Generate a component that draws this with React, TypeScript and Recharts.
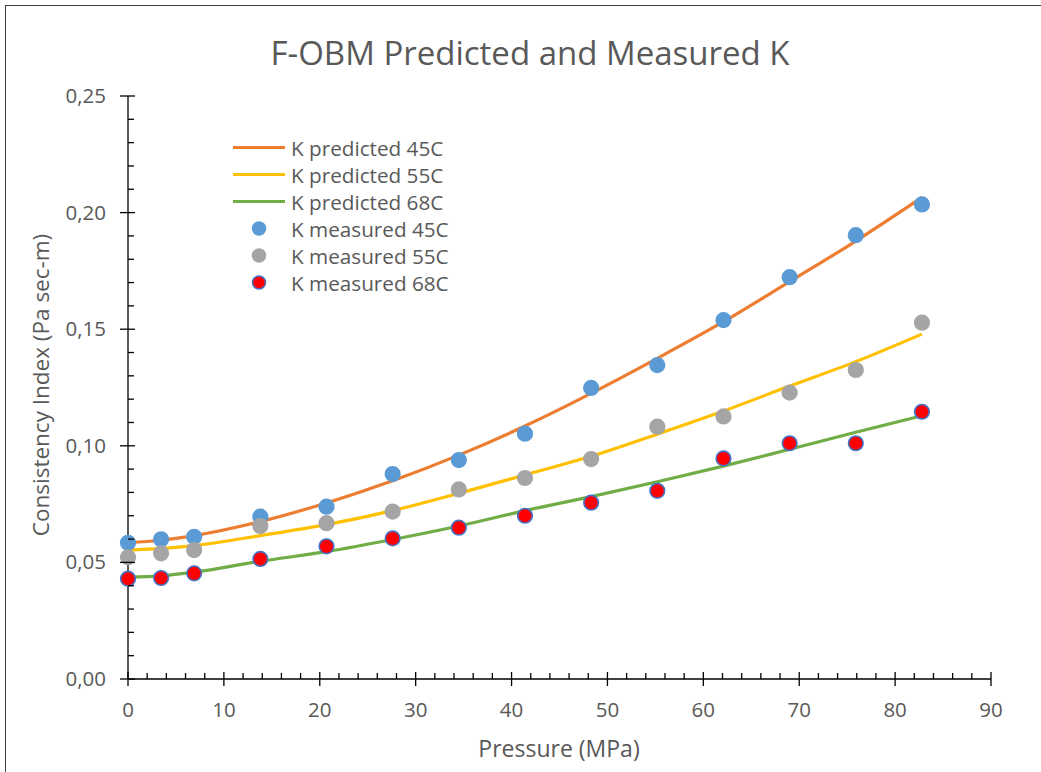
import { ComposedChart, Line, Scatter, XAxis, YAxis, Legend } from "recharts";

const FONT = "'Open Sans', sans-serif";
const TEXT = "#595959";

// pressure (MPa) at which K was measured
const PRESSURE = [0, 3.45, 6.9, 13.8, 20.7, 27.6, 34.5, 41.4, 48.3, 55.2, 62.1, 69, 75.9, 82.8];

// consistency index K (Pa sec-m)
const K_MEAS_45 = [0.0584, 0.0599, 0.061, 0.0696, 0.0739, 0.0879, 0.0939, 0.1052, 0.1248, 0.1346, 0.1539, 0.1723, 0.1903, 0.2035];
const K_MEAS_55 = [0.0522, 0.0539, 0.0553, 0.0656, 0.0668, 0.0718, 0.0813, 0.0862, 0.0943, 0.1082, 0.1126, 0.1228, 0.1325, 0.1528];
const K_MEAS_68 = [0.043, 0.0433, 0.0453, 0.0515, 0.0569, 0.0603, 0.0649, 0.07, 0.0756, 0.0807, 0.0946, 0.1011, 0.1011, 0.1146];
const K_PRED_45 = [0.0585, 0.0595, 0.0615, 0.0675, 0.0755, 0.085, 0.096, 0.1085, 0.1225, 0.1375, 0.1532, 0.1704, 0.1878, 0.2065];
const K_PRED_55 = [0.0553, 0.056, 0.0572, 0.0615, 0.0662, 0.0722, 0.0796, 0.0875, 0.0955, 0.105, 0.1149, 0.1256, 0.1361, 0.1479];
const K_PRED_68 = [0.0436, 0.0442, 0.0458, 0.0505, 0.0546, 0.0598, 0.0656, 0.0722, 0.0782, 0.0846, 0.0913, 0.0985, 0.1058, 0.1129];

// major + minor ticks
const X_TICKS = [0, 2, 4, 6, 8, 10, 12, 14, 16, 18, 20, 22, 24, 26, 28, 30, 32, 34, 36, 38, 40, 42, 44, 46, 48, 50, 52, 54, 56, 58, 60, 62, 64, 66, 68, 70, 72, 74, 76, 78, 80, 82, 84, 86, 88, 90];
const Y_TICKS = [0, 0.01, 0.02, 0.03, 0.04, 0.05, 0.06, 0.07, 0.08, 0.09, 0.1, 0.11, 0.12, 0.13, 0.14, 0.15, 0.16, 0.17, 0.18, 0.19, 0.2, 0.21, 0.22, 0.23, 0.24, 0.25];

const SERIES = [
  { name: "K predicted 45C", kind: "line", color: "#ED7D31", values: K_PRED_45 },
  { name: "K predicted 55C", kind: "line", color: "#FFC000", values: K_PRED_55 },
  { name: "K predicted 68C", kind: "line", color: "#70AD47", values: K_PRED_68 },
  { name: "K measured 45C", kind: "dot", color: "#5B9BD5", ring: "#5B9BD5", values: K_MEAS_45 },
  { name: "K measured 55C", kind: "dot", color: "#A5A5A5", ring: "#A5A5A5", values: K_MEAS_55 },
  { name: "K measured 68C", kind: "dot", color: "#FF0000", ring: "#4472C4", values: K_MEAS_68 },
];

const toPoints = (values: number[]) => PRESSURE.map((p, i) => ({ p, k: values[i] }));

function XTick({ x, y, payload }: any) {
  const major = payload.value % 10 === 0;
  return (
    <g>
      <line x1={x} x2={x} y1={major ? y - 7 : y - 6} y2={major ? y + 7 : y} stroke="#000" strokeWidth={1.3} />
      {major && (
        <text x={x} y={y + 38} textAnchor="middle" fill={TEXT} fontSize={20.5} fontFamily={FONT}>
          {payload.value}
        </text>
      )}
    </g>
  );
}

function YTick({ x, y, payload }: any) {
  const major = Math.round(payload.value * 100) % 5 === 0;
  return (
    <g>
      <line x1={major ? x - 8 : x} x2={major ? x + 7 : x + 6} y1={y} y2={y} stroke="#000" strokeWidth={1.3} />
      {major && (
        <text x={x - 22} y={y + 7} textAnchor="end" fill={TEXT} fontSize={20.5} fontFamily={FONT}>
          {payload.value.toFixed(2).replace(".", ",")}
        </text>
      )}
    </g>
  );
}

const dotShape = (fill: string, ring: string) => (props: any) =>
  <circle cx={props.cx} cy={props.cy} r={7.3} fill={fill} stroke={ring} strokeWidth={1.6} />;

function LegendBox() {
  return (
    <div style={{ fontFamily: FONT, fontSize: 20.7, color: TEXT }}>
      {SERIES.map((s) => (
        <div key={s.name} style={{ display: "flex", alignItems: "center", height: 27 }}>
          <svg width={59} height={27}>
            {s.kind === "line" ? (
              <line x1={1} x2={53} y1={13.5} y2={13.5} stroke={s.color} strokeWidth={3} />
            ) : (
              <circle cx={27} cy={13.5} r={6.5} fill={s.color} stroke={s.ring} strokeWidth={1.5} />
            )}
          </svg>
          <span style={{ whiteSpace: "nowrap" }}>{s.name}</span>
        </div>
      ))}
    </div>
  );
}

export default function App() {
  return (
    <div style={{ position: "absolute", left: 0, top: 0, width: 1041, height: 772, background: "#fff", fontFamily: FONT }}>
      <div
        style={{
          position: "absolute",
          left: 5,
          top: 5,
          width: 1036,
          height: 767,
          borderLeft: "1.5px solid #404040",
          borderTop: "1.5px solid #404040",
          boxSizing: "border-box",
        }}
      />
      <div
        style={{
          position: "absolute",
          left: 530,
          top: 52,
          transform: "translate(-50%, -50%)",
          fontSize: 33,
          color: TEXT,
          whiteSpace: "nowrap",
        }}
      >
        F-OBM Predicted and Measured K
      </div>
      <div
        style={{
          position: "absolute",
          left: 40,
          top: 385,
          transform: "translate(-50%, -50%) rotate(-90deg)",
          fontSize: 22.5,
          color: TEXT,
          whiteSpace: "nowrap",
        }}
      >
        Consistency Index (Pa sec-m)
      </div>
      <div style={{ position: "absolute", left: 559, top: 748, transform: "translate(-50%, -50%)", fontSize: 23, color: TEXT, whiteSpace: "nowrap" }}>
        Pressure (MPa)
      </div>
      <ComposedChart width={1041} height={772} margin={{ top: 96, right: 50, bottom: 63, left: 68 }}>
        <XAxis
          type="number"
          dataKey="p"
          domain={[0, 90]}
          ticks={X_TICKS}
          interval={0}
          tickSize={0}
          tickMargin={0}
          tickLine={false}
          tick={<XTick />}
          axisLine={{ stroke: "#000", strokeWidth: 1.3 }}
          height={30}
        />
        <YAxis
          type="number"
          dataKey="k"
          domain={[0, 0.25]}
          ticks={Y_TICKS}
          interval={0}
          tickSize={0}
          tickMargin={0}
          tickLine={false}
          tick={<YTick />}
          axisLine={{ stroke: "#000", strokeWidth: 1.3 }}
          width={60}
        />
        <Legend
          layout="vertical"
          align="center"
          verticalAlign="middle"
          wrapperStyle={{ left: 232, top: 134, width: 280 }}
          content={() => <LegendBox />}
        />
        {SERIES.filter((s) => s.kind === "line").map((s) => (
          <Line
            key={s.name}
            name={s.name}
            data={toPoints(s.values)}
            dataKey="k"
            type="monotone"
            stroke={s.color}
            strokeWidth={3.2}
            dot={false}
            activeDot={false}
            isAnimationActive={false}
          />
        ))}
        {SERIES.filter((s) => s.kind === "dot").map((s) => (
          <Scatter
            key={s.name}
            name={s.name}
            data={toPoints(s.values)}
            dataKey="k"
            fill={s.color}
            shape={dotShape(s.color, s.ring as string)}
            isAnimationActive={false}
          />
        ))}
      </ComposedChart>
    </div>
  );
}
